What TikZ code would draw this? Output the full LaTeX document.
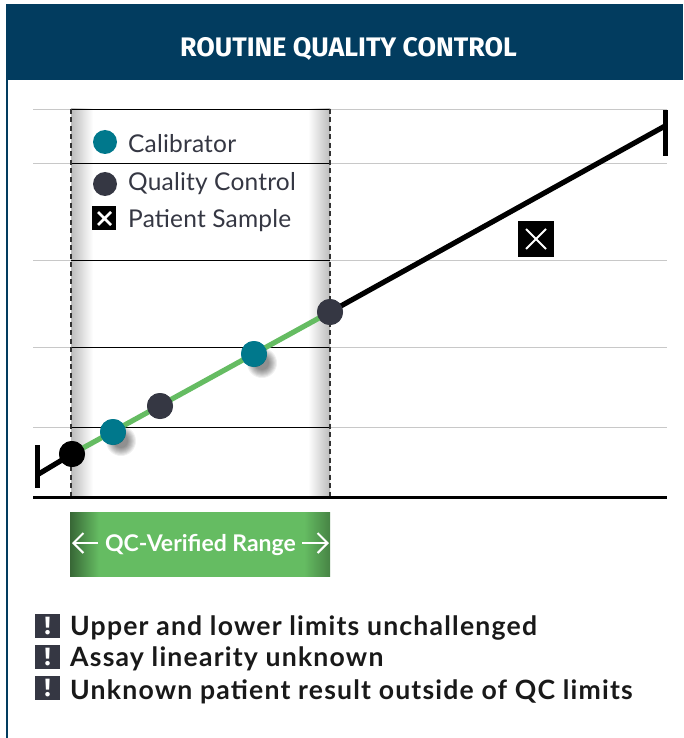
\documentclass[tikz,border=0pt]{standalone}
\usepackage{fontspec}
\setmainfont{Lato}
\newfontfamily\titlefont{Fira Sans}
\newfontfamily\notefont[LetterSpace=4.5]{Lato}
\newfontfamily\legendfont[LetterSpace=0.8]{Lato}
\usetikzlibrary{arrows.meta}
\definecolor{navy}{HTML}{023C5F}
\definecolor{tealc}{HTML}{00788C}
\definecolor{darkc}{HTML}{353743}
\definecolor{greenc}{HTML}{65BC62}
\definecolor{gridc}{HTML}{C8C8C8}
\definecolor{bandc}{HTML}{BCBCBC}
\pgfdeclarehorizontalshading{rangebar}{100bp}{
  color(0bp)=(greenc!55!black); color(25bp)=(greenc!55!black); color(30.5bp)=(greenc); color(70bp)=(greenc); color(75bp)=(greenc!70!black); color(100bp)=(greenc!70!black)}
\tikzset{
  x=1pt,y=-1pt,
  dot/.style={circle,inner sep=0pt,minimum size=26pt},
  legenddot/.style={circle,inner sep=0pt,minimum size=24pt},
  legendtext/.style={anchor=west,inner sep=0pt,text=darkc,font=\legendfont\fontsize{24.5}{28}\selectfont},
  noteicon/.style={fill=darkc,text=white,inner sep=0pt,minimum width=25pt,minimum height=24pt,font=\titlefont\fontsize{25}{25}\selectfont\bfseries},
  notetext/.style={anchor=west,inner sep=0pt,text=black!90,font=\notefont\fontsize{26.6}{28}\selectfont\bfseries},
  gridline/.style={gridc,line width=1pt},
  bandline/.style={black,line width=1pt},
  curve/.style={line width=5.2pt},
  dashline/.style={black!80,line width=1.2pt,dash pattern=on 5pt off 3.5pt},
  rangearrow/.style={white,line width=2pt,-{Straight Barb[length=10pt,width=20pt,line width=2pt]}},
}
\newcommand{\softshadow}[2]{%
  \foreach \r in {15,14,13,12,11,10,9,8,7}{\fill[black,opacity=.06] (#1,#2) circle (\r pt);}}
\begin{document}
\begin{tikzpicture}
\useasboundingbox (0,0) rectangle (683,738);
\fill[white] (0,0) rectangle (683,738);
% frame and header
\draw[navy,line width=1.4pt] (7,80) -- (7,738);
\fill[navy] (6,4) rectangle (683,80);
\node[text=white,inner sep=0pt,font=\titlefont\fontsize{26.8}{28}\selectfont\bfseries] (title) at (348.5,49) {ROUTINE QUALITY CONTROL};
% band shading
\shade[left color=bandc,right color=white] (71,109) rectangle (93,497);
\shade[left color=white,right color=bandc] (308,109) rectangle (330,497);
% grid
\foreach \yy in {109.4,163.4,260.4,347.4,427}{
  \draw[gridline] (33,\yy) -- (667,\yy);
  \draw[bandline] (71,\yy) -- (330,\yy);
}
% dashed limits and axis
\draw[dashline] (71,109) -- (71,497);
\draw[dashline] (330,109) -- (330,497);
\draw[black,line width=3pt] (33,497) -- (667,497);
% curve
\coordinate (capL) at (37,475);
\coordinate (capR) at (665,126);
\node[dot,fill=black] (p0) at (72,454) {};
\node[dot,fill=tealc] (p1) at (113,432) {};
\node[dot,fill=darkc] (p2) at (160,406) {};
\node[dot,fill=tealc] (p3) at (254,354) {};
\node[dot,fill=darkc] (p4) at (330,312) {};
\draw[black,curve] (capL) -- (p0.center);
\draw[black,curve] (p4.center) -- (capR);
\draw[greenc,curve] (p0.center) -- (p4.center);
\draw[black,line width=5pt] (37,445) -- (37,488);
\draw[black,line width=5pt] (665,110) -- (665,156);
\softshadow{121}{441}
\softshadow{262}{363}
\node[dot,fill=black] at (p0) {};
\node[dot,fill=tealc] at (p1) {};
\node[dot,fill=darkc] at (p2) {};
\node[dot,fill=tealc] at (p3) {};
\node[dot,fill=darkc] at (p4) {};
% patient sample
\node[fill=black,minimum size=36pt,inner sep=0pt] (ps) at (536,239) {};
\draw[white,line width=2pt] (526,229) -- (546,249) (546,229) -- (526,249);
% legend
\node[legenddot,fill=tealc] (l1) at (105,142) {};
\node[legenddot,fill=darkc] (l2) at (105,184) {};
\node[fill=black,minimum size=24pt,inner sep=0pt] (l3) at (104,218) {};
\draw[white,line width=2.8pt] (98,212) -- (111,225) (111,212) -- (98,225);
\node[legendtext] (t1) at (128,144) {Calibrator};
\node[legendtext] (t2) at (128,184) {Quality Control};
\node[legendtext] (t3) at (128,221) {Patient Sample};
% range bar
\shade[shading=rangebar] (70,512) rectangle (330,576);
\node[text=white,inner sep=0pt,font=\fontsize{23}{25}\selectfont\bfseries] (range) at (200.5,545) {QC-Verified Range};
\coordinate (rl) at (72,543);
\coordinate (rr) at (329,543);
\coordinate (rl0) at (98,543);
\coordinate (rr0) at (302,543);
\draw[rangearrow] (rl0) -- (rl);
\draw[rangearrow] (rr0) -- (rr);
% notes
\node[noteicon] (i1) at (47.5,626) {!};
\node[noteicon] (i2) at (47.5,657) {!};
\node[noteicon] (i3) at (47.5,688) {!};
\node[notetext] (n1) at (70,628) {Upper and lower limits unchallenged};
\node[notetext] (n2) at (70,659) {Assay linearity unknown};
\node[notetext] (n3) at (70,692) {Unknown patient result outside of QC limits};
\end{tikzpicture}
\end{document}
